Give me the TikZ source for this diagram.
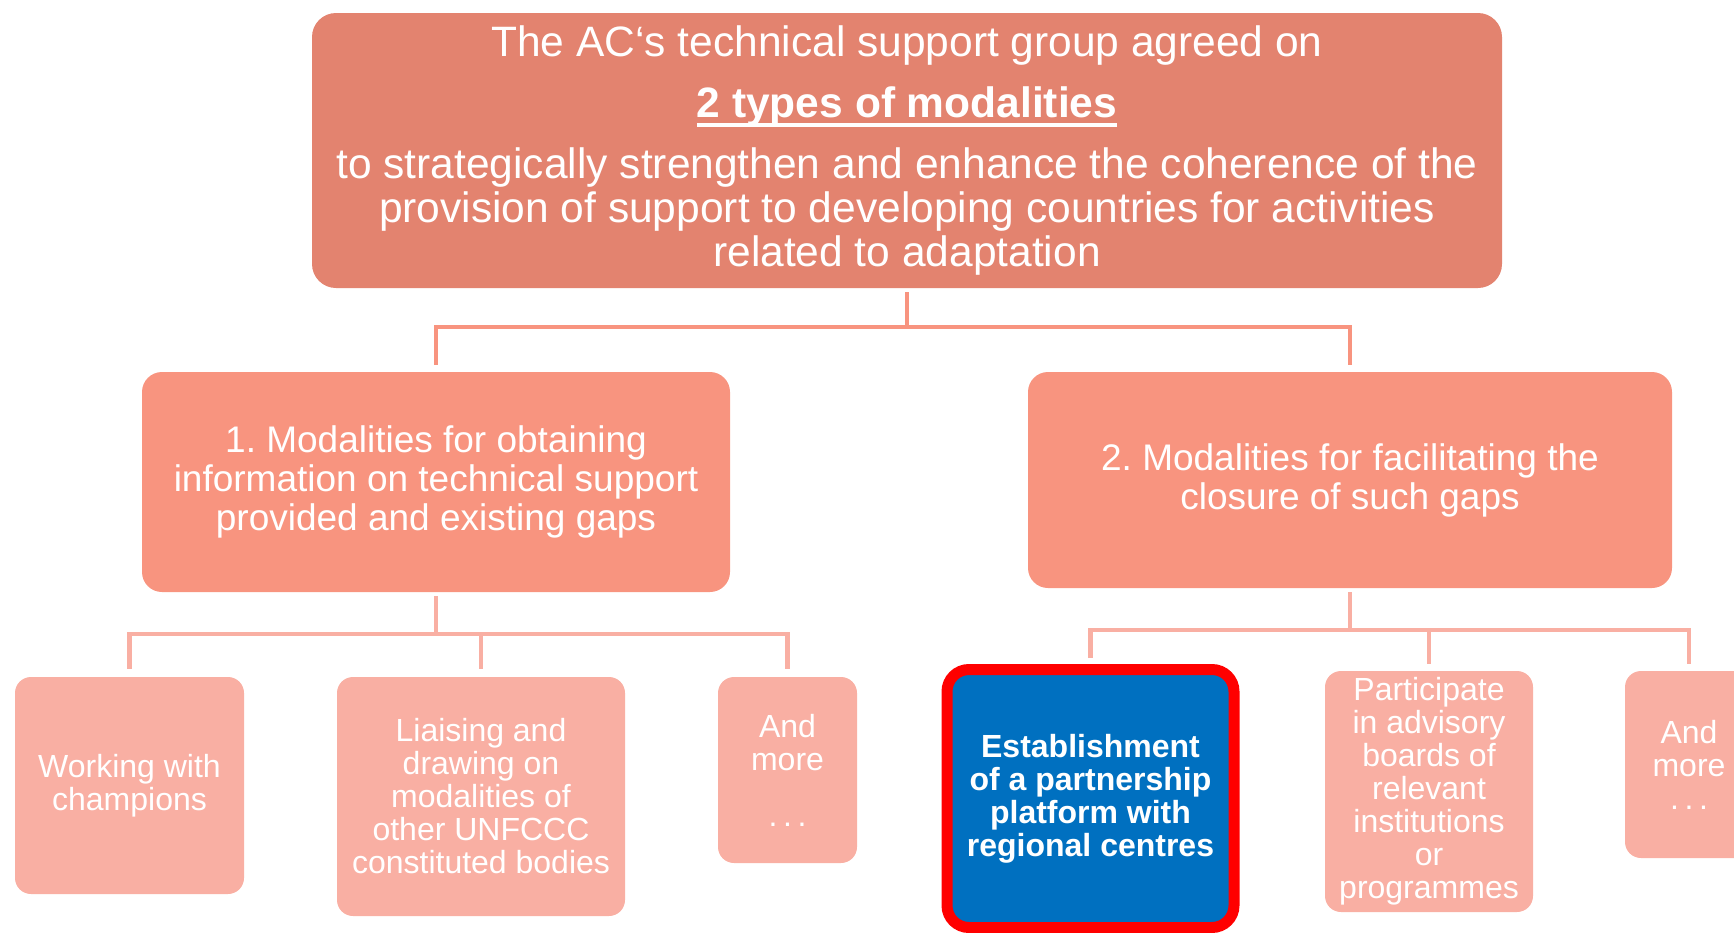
\documentclass[tikz,border=0pt]{standalone}
\usepackage{fontspec}
\setmainfont{Liberation Sans}
\frenchspacing
\definecolor{topc}{HTML}{E3836F}
\definecolor{midc}{HTML}{F8947F}
\definecolor{leafc}{HTML}{F9AFA3}
\definecolor{bluec}{HTML}{0070C0}
\definecolor{redc}{HTML}{FF0000}
\newsavebox\ulbox
\newcommand\myul[1]{\sbox\ulbox{#1}\rlap{\rule[-10pt]{\wd\ulbox}{4pt}}\usebox\ulbox}
\newcommand\mydots{.\hspace{5.6pt}.\hspace{5.6pt}.}
\begin{document}
\begin{tikzpicture}[x=1pt,y=-1pt,
  box/.style={rounded corners=20pt, text=white, align=center, inner sep=0pt},
  topbox/.style={box, fill=topc, rounded corners=24pt, font=\fontsize{42.5}{44}\selectfont},
  midbox/.style={box, fill=midc, font=\fontsize{37}{39}\selectfont},
  leafbox/.style={box, fill=leafc, rounded corners=16pt, font=\fontsize{32}{33}\selectfont},
  estbox/.style={box, fill=bluec, draw=redc, line width=11pt, rounded corners=22pt, font=\bfseries\fontsize{32}{33}\selectfont},
  conn/.style={line width=4.5pt},
  upconn/.style={conn, draw=midc},
  lowconn/.style={conn, draw=leafc}]
\useasboundingbox (0,0) rectangle (1734,932);
\clip (0,0) rectangle (1734,932);

\node[topbox, minimum width=1190pt, minimum height=275pt] (top) at (907,150.5)
 {The AC{‘}s technical support group agreed on\\[17pt]
  \textbf{\myul{2 types of modalities}}\\[17pt]
  to strategically strengthen and enhance the coherence of the\\
  provision of support to developing countries for activities\\
  related to adaptation};

\node[midbox, minimum width=588pt, minimum height=220pt] (m1) at (436,482)
 {1. Modalities for obtaining\\information on technical support\\provided and existing gaps};
\node[midbox, minimum width=644pt, minimum height=216pt] (m2) at (1350,480)
 {2. Modalities for facilitating the\\closure of such gaps};

\node[leafbox, minimum width=229pt, minimum height=217pt] (l1) at (129.5,785.5)
 {Working with\\champions};
\node[leafbox, minimum width=288pt, minimum height=239pt] (l2) at (481,796.5)
 {Liaising and\\drawing on\\modalities of\\other UNFCCC\\constituted bodies};
\node[leafbox, minimum width=139pt, minimum height=186pt] (l3) at (787.5,770)
 {And\\more\\[23pt]\mydots};

\node[estbox, minimum width=287pt, minimum height=258pt] (r1) at (1090.5,798.5)
 {Establishment\\of a partnership\\platform with\\regional centres};
\node[leafbox, minimum width=208pt, minimum height=241pt] (r2) at (1429,791.5)
 {Participate\\in advisory\\boards of\\relevant\\institutions\\or\\programmes};
\node[leafbox, minimum width=128pt, minimum height=187pt] (r3) at (1689,764.5)
 {And\\more\\\mydots};

\coordinate (hub1) at (907,327);
\coordinate (hub2) at (436,634);
\coordinate (hub3) at (1350,630);

\draw[upconn, shorten <=4pt] (top.south) -- (hub1);
\draw[upconn, shorten >=7pt] (hub1) -| (m1.north);
\draw[upconn, shorten >=7pt] (hub1) -| (m2.north);

\draw[lowconn, shorten <=4pt] (m1.south) -- (hub2);
\draw[lowconn, shorten <=8pt, shorten >=8pt] (l1.north) |- (hub2) -| (l3.north);
\draw[lowconn, shorten >=8pt] (hub2) -| (l2.north);

\draw[lowconn, shorten <=4pt] (m2.south) -- (hub3);
\draw[lowconn, shorten <=6pt, shorten >=7pt] (r1.north) |- (hub3) -| (r3.north);
\draw[lowconn, shorten >=7pt] (hub3) -| (r2.north);
\end{tikzpicture}
\end{document}
